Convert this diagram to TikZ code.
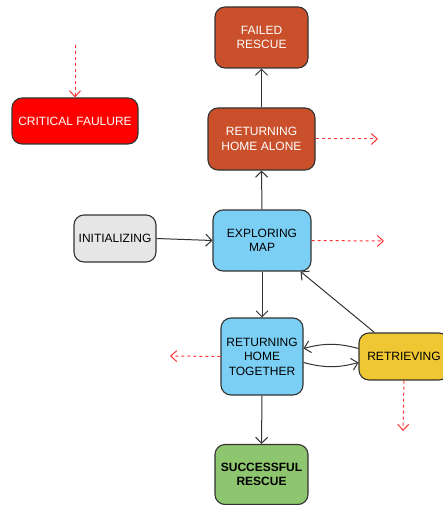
\documentclass[tikz,border=0pt]{standalone}
\usepackage{fontspec}
\setmainfont{Liberation Sans}
\usetikzlibrary{arrows.meta}
\definecolor{rust}{HTML}{C9502B}
\definecolor{crit}{HTML}{FF0000}
\definecolor{greybox}{HTML}{E6E6E6}
\definecolor{bluebox}{HTML}{7BCFF4}
\definecolor{yellowbox}{HTML}{EEC733}
\definecolor{greenbox}{HTML}{8DC66E}
\definecolor{edge}{HTML}{333333}
\definecolor{reddash}{HTML}{FF3333}
\begin{document}
\begin{tikzpicture}[x=1pt,y=-1pt,
  state/.style={draw=edge, line width=1.1pt, rounded corners=10pt, align=center, inner sep=0pt,
    font=\fontsize{12}{14.5}\selectfont},
  flow/.style={draw=edge, line width=1pt, -{Straight Barb[length=6pt,width=12pt]}},
  exitflow/.style={draw=reddash, line width=1pt, dashed, dash pattern=on 3pt off 3pt, -{Straight Barb[length=6pt,width=11pt]}}]
\useasboundingbox (0,0) rectangle (442,505);
\node[state, fill=rust, text=white, minimum width=93pt, minimum height=61pt] (failed) at (261.5,37.5) {FAILED\\RESCUE};
\node[state, fill=crit, text=white, minimum width=126pt, minimum height=46pt] (critical) at (75,121) {CRITICAL FAULURE};
\node[state, fill=rust, text=white, minimum width=107pt, minimum height=62pt] (alone) at (261.5,139) {RETURNING\\HOME ALONE};
\node[state, fill=greybox, minimum width=82pt, minimum height=47pt] (init) at (115,238.5) {INITIALIZING};
\node[state, fill=bluebox, minimum width=98pt, minimum height=61pt] (explore) at (262,240.5) {EXPLORING\\MAP};
\node[state, fill=bluebox, minimum width=82pt, minimum height=77pt] (together) at (262,356.5) {RETURNING\\HOME\\TOGETHER};
\node[state, fill=yellowbox, minimum width=90pt, minimum height=47pt] (retrieve) at (404,356.5) {RETRIEVING};
\node[state, fill=greenbox, minimum width=93pt, minimum height=60pt, font=\fontsize{12}{14.5}\selectfont\bfseries] (success) at (261.5,474.5) {SUCCESSFUL\\RESCUE};

\coordinate (critin) at (75,45);
\coordinate (aloneout) at (378,139);
\coordinate (exploreout) at (384,241);
\coordinate (togetherout) at (170,356);
\coordinate (retrieveout) at (403,431);

\draw[flow] (alone.north) -- (failed.south);
\draw[flow] (explore.north) -- (alone.south);
\draw[flow] (init.east) -- (explore.west);
\draw[flow] (explore.south) -- (together.north);
\draw[flow] (together.south) -- (success.north);
\draw[flow] ([xshift=16pt]retrieve.north west) -- ([xshift=-11pt]explore.south east);
\draw[flow] ([yshift=8pt]retrieve.west) to[bend right=15] ([yshift=8pt]together.east);
\draw[flow] ([yshift=-6pt]together.east) to[bend right=15] ([yshift=-6pt]retrieve.west);

\draw[exitflow] (critin) -- (critical.north);
\draw[exitflow] (alone.east) -- (aloneout);
\draw[exitflow] (explore.east) -- (exploreout);
\draw[exitflow] (together.west) -- (togetherout);
\draw[exitflow] (retrieve.south) -- (retrieveout);
\end{tikzpicture}
\end{document}
